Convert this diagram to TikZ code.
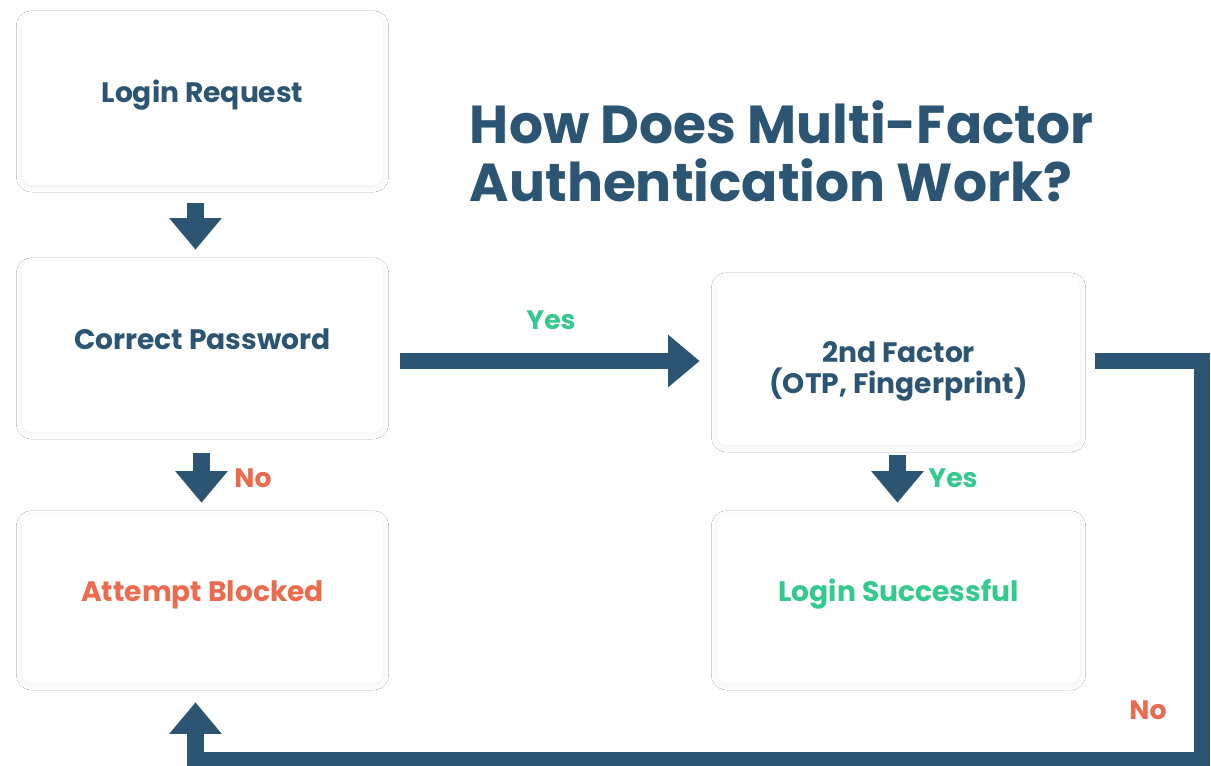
\documentclass[tikz,border=0pt]{standalone}
\usepackage{fontspec}
\setmainfont{Poppins}
\usepackage{xcolor}
\usetikzlibrary{arrows.meta,calc,shadows.blur}
\definecolor{mfanavy}{HTML}{2B5573}
\definecolor{mfagreen}{HTML}{34C98E}
\definecolor{mfared}{HTML}{EC6A4E}
\tikzset{
  box/.style={fill=white,rounded corners=7pt,minimum width=9.025cm,minimum height=4.25cm,
    align=center,text=mfanavy,font=\bfseries\fontsize{20}{22}\selectfont,text height=14pt,text depth=11pt,
    blur shadow={shadow xshift=0pt,shadow yshift=-1pt,shadow blur radius=4pt,shadow opacity=7,shadow blur steps=16}},
  flow/.style={mfanavy,line width=11.4pt,line join=miter,-{Triangle[length=22.5pt,width=36pt]}},
  yes/.style={text=mfagreen,font=\bfseries\fontsize{19}{22}\selectfont},
  no/.style={yes,text=mfared}
}
\begin{document}
\begin{tikzpicture}[x=0.025cm,y=-0.025cm]
\fill[white] (0,0) rectangle (1211,766);
\useasboundingbox (0,0) rectangle (1211,766);
\node[box] (req) at (202.5,100) {Login Request};
\node[box] (pwd) at (202.5,347) {Correct Password};
\node[box,minimum height=4.2cm,text=mfared] (blk) at (202.5,599) {Attempt Blocked};
\node[box,minimum width=9.075cm,minimum height=4.2cm,text height=48pt,text depth=2pt] (fac) at (898.5,361) {2nd Factor\\(OTP, Fingerprint)};
\node[box,minimum width=9.075cm,minimum height=4.2cm,text=mfagreen] (ok) at (898.5,599) {Login Successful};
\node[anchor=north west,align=left,text=mfanavy,font=\bfseries\fontsize{38}{41}\selectfont] (title) at (465,96) {How Does Multi-Factor\\Authentication Work?};
\draw[flow] ($(req.south)+(-7,18)$) -- ($(pwd.north)+(-7,-12)$);
\draw[flow] ($(pwd.south)+(-1,21)$) -- ($(blk.north)+(-1,-12)$);
\draw[flow] ($(fac.south)+(-1,10)$) -- ($(ok.north)+(-1,-12)$);
\draw[flow] ($(pwd.east |- fac.west)+(17,0)$) -- ($(fac.west)+(-17,0)$);
\coordinate (turn) at (1202,760);
\draw[flow] ($(fac.east)+(15,0)$) -| (turn) -| ($(blk.south)+(-7,19)$);
\node[yes] (y1) at (551,320) {Yes};
\node[no] (n1) at (253,478) {No};
\node[yes] (y2) at (953,478) {Yes};
\node[no] (n2) at (1148,710) {No};
\end{tikzpicture}
\end{document}
